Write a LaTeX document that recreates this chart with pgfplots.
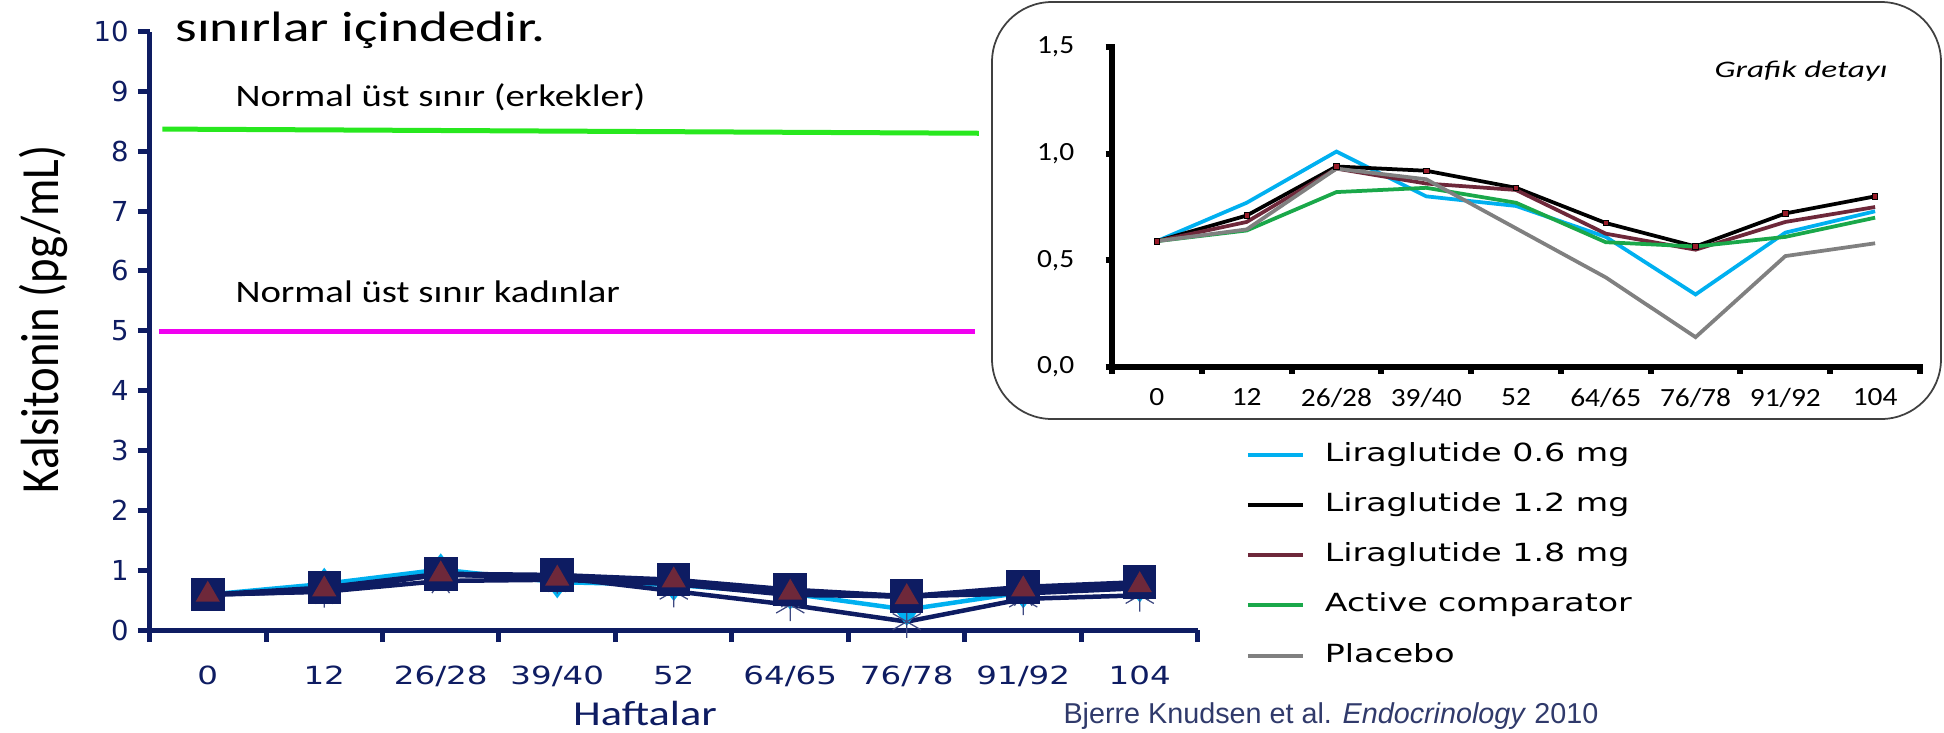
\documentclass[border=0pt]{standalone}
\usepackage{fontspec}
\usepackage{graphicx}
\usepackage{pgfplots}
\pgfplotsset{compat=1.18}
\usepackage{pgfplotstable}
\setmainfont{Carlito}
\newfontfamily\verd{DejaVu Sans}
\newfontfamily\arialf{Liberation Sans}
\definecolor{navy}{RGB}{14,28,98}
\definecolor{cyanL}{RGB}{0,176,240}
\definecolor{maroonL}{RGB}{110,40,58}
\definecolor{greenL}{RGB}{26,168,74}
\definecolor{grayL}{RGB}{128,128,128}
\definecolor{limgreen}{RGB}{40,232,30}
\definecolor{limmag}{RGB}{240,0,240}
\newcommand{\sxm}[1]{\scalebox{1.3}[1]{#1}}
\newcommand{\sxleg}[1]{\scalebox{1.33}[1]{#1}}
\newcommand{\sxin}[1]{\scalebox{1.12}[1]{#1}}

\pgfplotstableread{
x l06 l12 l18 ac pl
0 0.59 0.59 0.59 0.59 0.59
1 0.77 0.71 0.68 0.64 0.645
2 1.01 0.94 0.93 0.82 0.93
3 0.80 0.92 0.86 0.84 0.88
4 0.755 0.84 0.83 0.77 0.65
5 0.61 0.675 0.625 0.585 0.42
6 0.34 0.565 0.55 0.565 0.14
7 0.63 0.72 0.68 0.61 0.52
8 0.73 0.80 0.75 0.70 0.58
}\calc

\begin{document}
\begin{tikzpicture}[x=1pt,y=1pt]
\path[use as bounding box] (0,0) rectangle (777.6,-292.8);

% inset frame
\draw[rounded corners=24pt, line width=0.7pt, draw=black!75, fill=white] (396.8,-0.8) rectangle (776.4,-167.6);

\begin{axis}[
  at={(59.8pt,-252pt)}, anchor=south west,
  scale only axis, width=419.4pt, height=239.4pt,
  xmin=-0.5, xmax=8.5, ymin=0, ymax=10,
  axis lines=left,
  axis line style={-, draw=navy, line width=2pt},
  tick align=outside,
  xtick={0,...,8},
  xticklabels={\sxm{0},\sxm{12},\sxm{26/28},\sxm{39/40},\sxm{52},\sxm{64/65},\sxm{76/78},\sxm{91/92},\sxm{104}},
  major x tick style={draw=none},
  minor xtick={-0.5,0.5,...,8.5},
  minor x tick style={draw=navy, line width=2pt},
  minor tick length=4.8pt,
  major tick length=4.8pt,
  ytick={0,...,10},
  y tick style={draw=navy, line width=2pt},
  /pgf/number format/assume math mode=true,
  xticklabel style={font=\verd\fontsize{10}{12}\selectfont, text=navy, yshift=-6pt},
  yticklabel style={font=\verd\fontsize{11}{13}\selectfont, text=navy},
  clip=false,
]
\addplot[limgreen, line width=2pt] coordinates {(-0.39,8.37) (6.62,8.30)};
\addplot[limmag, line width=2pt] coordinates {(-0.42,4.98) (6.59,4.98)};
\addplot[cyanL, line width=1.8pt, mark=diamond*, mark size=5pt, mark options={fill=cyanL, draw=cyanL}] table[x=x,y=l06]{\calc};
\addplot[navy, line width=1.8pt, mark=asterisk, mark size=6.5pt, mark options={line width=0.5pt, draw=navy!80}] table[x=x,y=pl]{\calc};
\addplot[navy, line width=1.8pt, mark=star, mark size=6pt, mark options={line width=0.5pt, draw=navy!80}] table[x=x,y=ac]{\calc};
\addplot[navy, line width=1.8pt, mark=square*, mark size=5.8pt, mark options={fill=navy, draw=navy}] table[x=x,y=l12]{\calc};
\addplot[navy, line width=1.8pt, mark=triangle*, mark size=3.8pt, mark options={fill=maroonL, draw=maroonL}] table[x=x,y=l18]{\calc};
\end{axis}

\begin{axis}[
  at={(444.8pt,-146.8pt)}, anchor=south west,
  scale only axis, width=323.2pt, height=128pt,
  xmin=-0.5, xmax=8.5, ymin=0, ymax=1.5,
  axis lines=left,
  axis line style={-, draw=black, line width=2.4pt, line cap=rect},
  tick align=outside,
  xtick={0,...,8},
  xticklabels={\sxin{0},\sxin{12},\sxin{26/28},\sxin{39/40},\sxin{52},\sxin{64/65},\sxin{76/78},\sxin{91/92},\sxin{104}},
  major x tick style={draw=none},
  minor xtick={-0.5,0.5,...,8.5},
  minor x tick style={draw=black, line width=2.4pt},
  minor tick length=2.6pt,
  major tick length=2.6pt,
  ytick={0,0.5,1,1.5},
  yticklabels={\sxin{0,0},\sxin{0,5},\sxin{1,0},\sxin{1,5}},
  y tick style={draw=black, line width=2.4pt},
  ticklabel style={font=\fontsize{10.5}{12}\selectfont, text=black},
  xticklabel style={yshift=-2.5pt},
  yticklabel style={xshift=-9pt},
  clip=false,
  legend cell align=left,
  legend style={at={(0.165,-0.234)}, anchor=north west, draw=none, fill=none,
    inner sep=0pt, row sep=10.4pt, column sep=8pt,
    font=\verd\fontsize{10}{12}\selectfont,
    nodes={inner sep=0pt, text height=7.5pt, text depth=2.2pt}},
  legend image code/.code={\draw[line width=1.6pt] (0pt,0pt) -- (22pt,0pt);},
]
\addplot[cyanL, line width=1.5pt] table[x=x,y=l06]{\calc};
\addlegendentry{\sxleg{Liraglutide 0.6 mg}}
\addplot[black, line width=1.5pt, mark=square*, mark size=1.1pt, mark options={fill=maroonL!70!red, draw=black, line width=0.3pt}] table[x=x,y=l12]{\calc};
\addlegendentry{\sxleg{Liraglutide 1.2 mg}}
\addplot[maroonL, line width=1.5pt] table[x=x,y=l18]{\calc};
\addlegendentry{\sxleg{Liraglutide 1.8 mg}}
\addplot[greenL, line width=1.5pt] table[x=x,y=ac]{\calc};
\addlegendentry{\sxleg{Active comparator}}
\addplot[grayL, line width=1.5pt] table[x=x,y=pl]{\calc};
\addlegendentry{\sxleg{Placebo}}
\end{axis}

% texts
\node[anchor=base west, inner sep=0pt] at (70,-16.6) {\fontsize{17}{20}\selectfont\scalebox{1.3}[1]{sınırlar içindedir.}};
\node[anchor=base west, inner sep=0pt] at (94,-42.4) {\fontsize{12.5}{14}\selectfont\scalebox{1.24}[1]{Normal üst sınır (erkekler)}};
\node[anchor=base west, inner sep=0pt] at (94,-120.8) {\fontsize{12.5}{14}\selectfont\scalebox{1.24}[1]{Normal üst sınır kadınlar}};
\node[rotate=90, inner sep=0pt] at (17.2,-127.7) {\fontsize{18.7}{22}\selectfont\scalebox{1}[1.15]{Kalsitonin (pg/mL)}};
\node[inner sep=0pt, text=navy] at (258,-285.2) {\fontsize{14}{16}\selectfont\scalebox{1.27}[1]{Haftalar}};
\node[inner sep=0pt] at (720.4,-28.4) {\fontsize{9.5}{11}\selectfont\itshape\scalebox{1.4}[1]{Grafik detayı}};
\node[anchor=base west, inner sep=0pt, text=navy!70!gray] at (425.2,-289.2) {\arialf\fontsize{11.5}{13}\selectfont Bjerre Knudsen et al. \textit{Endocrinology} 2010};
\end{tikzpicture}
\end{document}
